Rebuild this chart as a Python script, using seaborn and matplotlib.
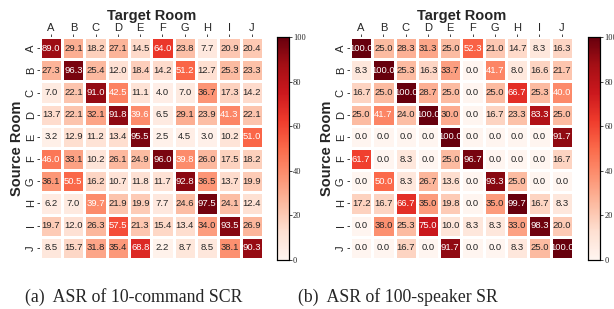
import matplotlib
matplotlib.use("Agg")
import matplotlib.pyplot as plt
import seaborn as sns
import numpy as np
import pandas as pd

rooms = ["A", "B", "C", "D", "E", "F", "G", "H", "I", "J"]

# ASR of 10-command SCR (source rows, target columns)
scr_A = [89.0, 29.1, 18.2, 27.1, 14.5, 64.0, 23.8, 7.7, 20.9, 20.4]
scr_B = [27.3, 96.3, 25.4, 12.0, 18.4, 14.2, 51.2, 12.7, 25.3, 23.3]
scr_C = [7.0, 22.1, 91.0, 42.5, 11.1, 4.0, 7.0, 36.7, 17.3, 14.2]
scr_D = [13.7, 22.1, 32.1, 91.8, 39.6, 6.5, 29.1, 23.9, 41.3, 22.1]
scr_E = [3.2, 12.9, 11.2, 13.4, 95.5, 2.5, 4.5, 3.0, 10.2, 51.0]
scr_F = [46.0, 33.1, 10.2, 26.1, 24.9, 96.0, 39.8, 26.0, 17.5, 18.2]
scr_G = [36.1, 50.5, 16.2, 10.7, 11.8, 11.7, 92.8, 36.5, 13.7, 19.9]
scr_H = [6.2, 7.0, 39.7, 21.9, 19.9, 7.7, 24.6, 97.5, 24.1, 12.4]
scr_I = [19.7, 12.0, 26.3, 57.5, 21.3, 15.4, 13.4, 34.0, 93.5, 26.9]
scr_J = [8.5, 15.7, 31.8, 35.4, 68.8, 2.2, 8.7, 8.5, 38.1, 90.3]

# ASR of 100-speaker SR
sr_A = [100.0, 25.0, 28.3, 31.3, 25.0, 52.3, 21.0, 14.7, 8.3, 16.3]
sr_B = [8.3, 100.0, 25.3, 16.3, 33.7, 0.0, 41.7, 8.0, 16.6, 21.7]
sr_C = [16.7, 25.0, 100.0, 28.7, 25.0, 0.0, 25.0, 66.7, 25.3, 40.0]
sr_D = [25.0, 41.7, 24.0, 100.0, 30.0, 0.0, 16.7, 23.3, 83.3, 25.0]
sr_E = [0.0, 0.0, 0.0, 0.0, 100.0, 0.0, 0.0, 0.0, 0.0, 91.7]
sr_F = [61.7, 0.0, 8.3, 0.0, 25.0, 96.7, 0.0, 0.0, 0.0, 16.7]
sr_G = [0.0, 50.0, 8.3, 26.7, 13.6, 0.0, 93.3, 25.0, 0.0, 0.0]
sr_H = [17.2, 16.7, 66.7, 35.0, 19.8, 0.0, 35.0, 99.7, 16.7, 8.3]
sr_I = [0.0, 38.0, 25.3, 75.0, 10.0, 8.3, 8.3, 33.0, 98.3, 20.0]
sr_J = [0.0, 0.0, 16.7, 0.0, 91.7, 0.0, 0.0, 8.3, 25.0, 100.0]

captions = ["(a)  ASR of 10-command SCR", "(b)  ASR of 100-speaker SR"]

scr = pd.DataFrame([scr_A, scr_B, scr_C, scr_D, scr_E, scr_F, scr_G, scr_H, scr_I, scr_J],
                   index=rooms, columns=rooms)
sr = pd.DataFrame([sr_A, sr_B, sr_C, sr_D, sr_E, sr_F, sr_G, sr_H, sr_I, sr_J],
                  index=rooms, columns=rooms)

sns.set_style("white")
plt.rcParams["font.family"] = ["Liberation Sans", "DejaVu Sans"]

fig = plt.figure(figsize=(6.14, 3.09), dpi=100)

boxes = [(0.065, 0.451), (0.570, 0.958)]
cap_x = [0.218, 0.648]

for df, (hx, cx), cap, capx in zip([scr, sr], boxes, captions, cap_x):
    ax = fig.add_axes([hx, 0.162, 0.363, 0.718])
    cax = fig.add_axes([cx, 0.159, 0.0195, 0.721])
    sns.heatmap(df, ax=ax, cbar_ax=cax, cmap="Reds", vmin=0, vmax=100,
                annot=True, fmt=".1f", annot_kws={"fontsize": 6.8},
                linewidths=1, linecolor="white")
    ax.xaxis.tick_top()
    ax.xaxis.set_label_position("top")
    ax.set_xlabel("Target Room", fontsize=10.5, fontweight="bold", labelpad=2)
    ax.set_ylabel("Source Room", fontsize=10.5, fontweight="bold", labelpad=1)
    ax.tick_params(axis="both", length=2, width=0.6, pad=1, labelsize=8)
    ax.tick_params(axis="x", top=True, bottom=False, rotation=0)
    ax.tick_params(axis="y", left=True, rotation=90)
    for lab in ax.get_yticklabels():
        lab.set_va("center")
    cax.tick_params(length=2, width=0.6, pad=1, labelsize=6)
    cax.set_yticks([0, 20, 40, 60, 80, 100])
    for lab in cax.get_yticklabels():
        lab.set_family(["Liberation Serif", "DejaVu Serif"])
    for sp in cax.spines.values():
        sp.set_visible(True)
        sp.set_color("black")
        sp.set_linewidth(0.8)
    fig.text(capx, 0.04, cap, ha="center", va="center", fontsize=12.8,
             family=["Liberation Serif", "DejaVu Serif"])

fig.savefig("out.png", dpi=100)
